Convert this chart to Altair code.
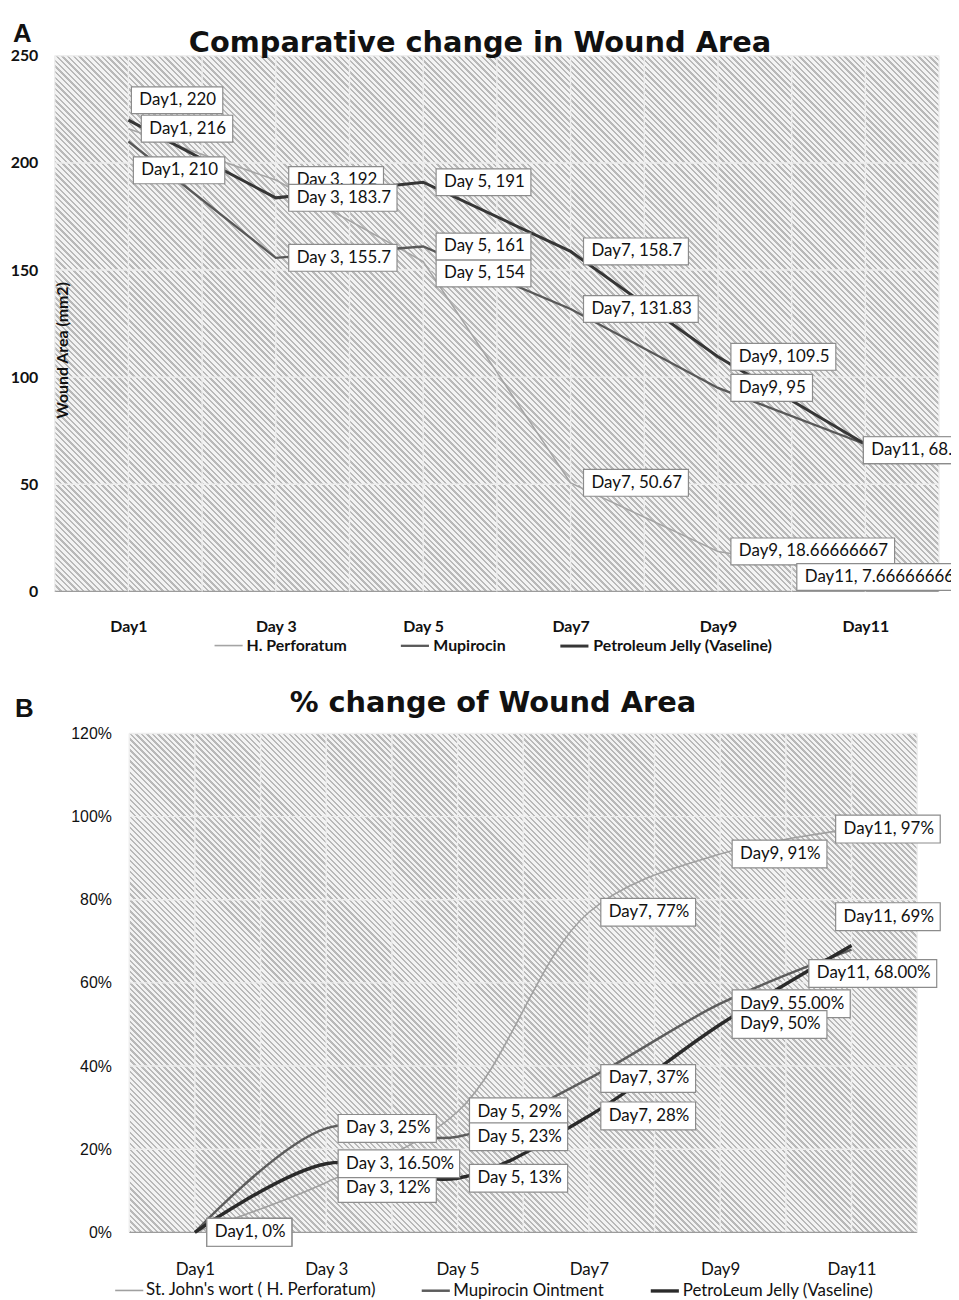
import json
import altair as alt
import pandas as pd

# ---------------- data ----------------
days = ["Day1", "Day 3", "Day 5", "Day7", "Day9", "Day11"]

# Panel A: wound area (mm2)
a_series = ["H. Perforatum", "Mupirocin", "Petroleum Jelly (Vaseline)"]
a_hperf = [216, 192, 154, 50.67, 18.66666667, 7.666666667]
a_mupi = [210, 155.7, 161, 131.83, 95, 68.7]
a_vase = [220, 183.7, 191, 158.7, 109.5, 68.7]
a_yticks = [0, 50, 100, 150, 200, 250]

# Panel B: % change of wound area
b_series = ["St. John's wort ( H. Perforatum)", "Mupirocin Ointment", "PetroLeum Jelly (Vaseline)"]
b_sjw = [0, 12, 29, 77, 91, 97]
b_mupi = [0, 25, 23, 37, 55, 68]
b_vase = [0, 16.5, 13, 28, 50, 69]
# decimals shown in each data label
b_sjw_dec = [0, 0, 0, 0, 0, 0]
b_mupi_dec = [0, 0, 0, 0, 2, 2]
b_vase_dec = [0, 2, 0, 0, 0, 0]
b_yticks = [0, 20, 40, 60, 80, 100, 120]

# ---------------- style / layout ----------------
A_VIEW_W = 902
B_VIEW_W = 900
A_W, A_H = 890, 539          # hatched plot region of A
B_W, B_H = 793, 502          # hatched plot region of B
B_LEFT = 75                  # B hatch starts this far right of the view origin
A_COLORS = ["#a4a4a4", "#585858", "#363636"]
A_WIDTHS = [1.6, 3.0, 2.4]
B_COLORS = ["#a0a0a0", "#5c5c5c", "#2a2a2a"]
B_WIDTHS = [1.6, 3.4, 2.2]
LBL_FONT = "Lato"
TITLE_FONT = "DejaVu Sans"
BOX_STROKE = "#8c8c8c"
GRID_COLOR = "#eeeeee"

# label nudges in pixels (dx, dy) relative to default placement right of the point
a_nudge = {
    ("Petroleum Jelly (Vaseline)", 0): (-10, -20),
    ("Mupirocin", 0): (-8, 29),
    ("H. Perforatum", 2): (0, 12),
    ("Petroleum Jelly (Vaseline)", 5): (-15, 6),
    ("Mupirocin", 5): (-15, 6),
    ("H. Perforatum", 5): (-82, 2),
}
b_nudge = {
    (b_series[0], 1): (0, 6),
    (b_series[0], 5): (-28, 0),
    (b_series[2], 5): (-28, -29),
    (b_series[1], 5): (-55, 24),
}

CW = {"D": 0.74, "a": 0.50, "y": 0.49, ",": 0.22, ".": 0.22, " ": 0.20, "%": 0.78}


def text_w(s, size):
    return sum(CW.get(c, 0.58) for c in s) * size


def fmt_num(v):
    return str(int(v)) if float(v).is_integer() else str(v)


def hatch(w, h, hperiod=5.6, light="#f3f3f3", dark="#b9b9b9", frac=0.42):
    # diagonal "\\" stripes for one grid cell, drawn as a hard-stop linear gradient
    n = max(1, int(round((w + h) / hperiod)))
    r = h / w
    k = (1 + r) / (1 + r * r)
    stops = []
    for i in range(n):
        a = round(i / n, 6)
        b = round((i + frac) / n, 6)
        c = round((i + 1) / n, 6)
        stops += [
            alt.GradientStop(offset=a, color=dark),
            alt.GradientStop(offset=b, color=dark),
            alt.GradientStop(offset=b, color=light),
            alt.GradientStop(offset=c, color=light),
        ]
    return alt.LinearGradient(gradient="linear", stops=stops, x1=0, y1=1, x2=k, y2=1 - r * k)


def panel(series, values, texts, colors, widths, nudge, pxx, pxy, xdom, ydom,
          base_dx, box_h, fsize, yinfo, legend, title, letter, clip_labels, interp):
    one = pd.DataFrame({"k": [0]})
    xs = alt.Scale(domain=xdom, nice=False, zero=False)
    ys = alt.Scale(domain=ydom, nice=False, zero=False)
    arr = json.dumps(days)
    xaxis = alt.Axis(
        values=list(range(len(days))),
        labelExpr="%s[datum.value]" % arr,
        grid=False, ticks=False, domain=False,
        labelFont=LBL_FONT, labelFontSize=yinfo["xlabel_size"], labelFontWeight=yinfo["xlabel_weight"],
        labelColor="#111", labelPadding=yinfo["xlabel_pad"], title=None, labelBaseline="top", zindex=1,
    )
    yaxis = yinfo["axis"]
    ticks = yinfo["values"]
    half = [i / 2 - 0.5 for i in range(2 * len(days) + 1)]

    # hatched plot background, one gradient-filled cell per grid cell
    cells = pd.DataFrame([
        {"x0": g0, "x1": g1, "y0": t0, "y1": t1}
        for g0, g1 in zip(half[:-1], half[1:]) for t0, t1 in zip(ticks[:-1], ticks[1:])
    ])
    cw = (half[1] - half[0]) * pxx
    ch = (ticks[1] - ticks[0]) * pxy
    bg = alt.Chart(cells).mark_rect(color=hatch(cw, ch)).encode(
        x=alt.X("x0:Q", scale=xs, axis=xaxis), x2="x1:Q",
        y=alt.Y("y0:Q", scale=ys, axis=yaxis), y2="y1:Q",
    )

    # gridlines: horizontal at y ticks, vertical at every half category step
    gdf = pd.DataFrame({"v": ticks})
    hgrid = alt.Chart(gdf).mark_rule(strokeWidth=1.4).encode(
        x=alt.X(datum=half[0], scale=xs, axis=xaxis), x2=alt.X2(datum=half[-1]),
        y=alt.Y("v:Q", scale=ys, axis=yaxis),
        color=alt.condition("datum.v == %s" % ydom[0], alt.value("#9c9c9c"), alt.value(GRID_COLOR)),
    )
    vdf = pd.DataFrame({"g": half})
    vgrid = alt.Chart(vdf).mark_rule(strokeWidth=1.4, color=GRID_COLOR).encode(
        x=alt.X("g:Q", scale=xs, axis=xaxis),
        y=alt.Y(datum=ydom[0], scale=ys, axis=yaxis), y2=alt.Y2(datum=ydom[1]),
    )

    rows = []
    for s, vals in zip(series, values):
        for i, v in enumerate(vals):
            rows.append({"series": s, "x": i, "v": v})
    ldf = pd.DataFrame(rows)
    lines = alt.Chart(ldf).mark_line(interpolate=interp).encode(
        x=alt.X("x:Q", scale=xs, axis=xaxis),
        y=alt.Y("v:Q", scale=ys, axis=yaxis),
        color=alt.Color("series:N", scale=alt.Scale(domain=series, range=colors), legend=legend),
        strokeWidth=alt.StrokeWidth("series:N", scale=alt.Scale(domain=series, range=widths), legend=None),
        detail="series:N",
    )

    layers = [bg, hgrid, vgrid, lines]
    for s, vals, txts in zip(series, values, texts):
        recs = []
        for i, (v, t) in enumerate(zip(vals, txts)):
            dx, dy = nudge.get((s, i), (0, 0))
            w = text_w(t, fsize) + 16
            x0 = i + (base_dx + dx) / pxx
            yc = v - dy / pxy
            recs.append({
                "x0": x0, "x1": x0 + w / pxx,
                "y0": yc - box_h / 2 / pxy, "y1": yc + box_h / 2 / pxy,
                "tx": x0 + 8 / pxx, "ty": yc, "t": t,
            })
        df = pd.DataFrame(recs)
        box = alt.Chart(df).mark_rect(fill="white", stroke=BOX_STROKE, strokeWidth=1.2, clip=clip_labels).encode(
            x=alt.X("x0:Q", scale=xs, axis=xaxis), x2="x1:Q",
            y=alt.Y("y0:Q", scale=ys, axis=yaxis), y2="y1:Q",
        )
        txt = alt.Chart(df).mark_text(align="left", baseline="middle", font=LBL_FONT, fontSize=fsize,
                                      color="#111", clip=clip_labels).encode(
            x=alt.X("tx:Q", scale=xs, axis=xaxis), y=alt.Y("ty:Q", scale=ys, axis=yaxis), text="t:N",
        )
        layers += [box, txt]

    # panel letter and panel title
    lt = alt.Chart(one).mark_text(text=letter[0], font="Liberation Sans", fontSize=26, fontWeight="bold",
                                  align="left", baseline="top", color="#111").encode(
        x=alt.value(letter[1]), y=alt.value(letter[2]))
    tt = alt.Chart(one).mark_text(text=title[0], font=TITLE_FONT, fontSize=29, fontWeight="bold",
                                  align="center", baseline="alphabetic", color="#111").encode(
        x=alt.value(title[1]), y=alt.value(title[2]))
    layers += [lt, tt]
    return alt.layer(*layers)


# ---------- panel A ----------
pxx_a, pxy_a = A_W / 6, A_H / 250
a_vals = [a_hperf, a_mupi, a_vase]
a_texts = [["%s, %s" % (d, fmt_num(v)) for d, v in zip(days, vals)] for vals in a_vals]
a_yinfo = {
    "values": a_yticks,
    "xlabel_size": 16, "xlabel_weight": "bold", "xlabel_pad": 27,
    "axis": alt.Axis(values=a_yticks, grid=False, ticks=False, domain=False, labelFont=LBL_FONT,
                     labelFontSize=16, labelFontWeight="bold", labelColor="#111", labelPadding=17,
                     title="Wound Area (mm2)", titleFont=LBL_FONT, titleFontSize=16, titleFontWeight="bold",
                     titleColor="#111", titleX=8, titleY=296, titleAngle=270, titleAlign="center",
                     titleBaseline="middle", zindex=1),
}
a_legend = alt.Legend(orient="none", legendX=160, legendY=578, direction="horizontal", title=None,
                      symbolType="stroke", symbolSize=800, symbolStrokeWidth=2.2, labelFont=LBL_FONT,
                      labelFontSize=16, labelFontWeight="bold", labelColor="#111", columnPadding=48,
                      labelOffset=3, labelLimit=400)
chart_a = panel(
    a_series, a_vals, a_texts, A_COLORS, A_WIDTHS, a_nudge, pxx_a, pxy_a,
    [-0.5, -0.5 + A_VIEW_W / pxx_a], [0, 250], 13, 27, 17, a_yinfo, a_legend,
    ("Comparative change in  Wound Area", 428, -4), ("A", -42, -35), True, "linear",
).properties(width=A_VIEW_W, height=A_H, view=alt.ViewBackground(strokeOpacity=0))

# ---------- panel B ----------
pxx_b, pxy_b = B_W / 6, B_H / 120
b_vals = [b_sjw, b_mupi, b_vase]
b_decs = [b_sjw_dec, b_mupi_dec, b_vase_dec]
b_texts = [["%s, %.*f%%" % (d, n, v) for d, v, n in zip(days, vals, decs)] for vals, decs in zip(b_vals, b_decs)]
b_yinfo = {
    "values": b_yticks,
    "xlabel_size": 17, "xlabel_weight": "normal", "xlabel_pad": 29,
    "axis": alt.Axis(values=b_yticks, grid=False, ticks=False, domain=False, offset=-B_LEFT,
                     labelExpr="datum.value + '%'", labelFont="Liberation Sans", labelFontSize=16,
                     labelColor="#111", labelPadding=18, title=None, zindex=1),
}
b_legend = alt.Legend(orient="none", legendX=60, legendY=545, direction="horizontal", title=None,
                      symbolType="stroke", symbolSize=800, symbolStrokeWidth=2.6, labelFont=LBL_FONT,
                      labelFontSize=17, labelColor="#111", columnPadding=40, labelOffset=2, labelLimit=400)
b_x0 = -0.5 - B_LEFT / pxx_b
chart_b = panel(
    b_series, b_vals, b_texts, B_COLORS, B_WIDTHS, b_nudge, pxx_b, pxy_b,
    [b_x0, b_x0 + B_VIEW_W / pxx_b], [0, 120], 12, 28, 17, b_yinfo, b_legend,
    ("% change of Wound Area", 441, -22), ("B", -40, -38), False, "catmull-rom",
).properties(width=B_VIEW_W, height=B_H, view=alt.ViewBackground(strokeOpacity=0))

chart = alt.vconcat(chart_a, chart_b, spacing=35).resolve_scale(
    color="independent", strokeWidth="independent", x="independent", y="independent"
).properties(
    padding={"left": 2, "top": 9, "right": 0, "bottom": 0}
).configure_view(strokeOpacity=0).configure(background="white")

chart.save("out.html", embed_options={"renderer": "svg", "actions": False})
